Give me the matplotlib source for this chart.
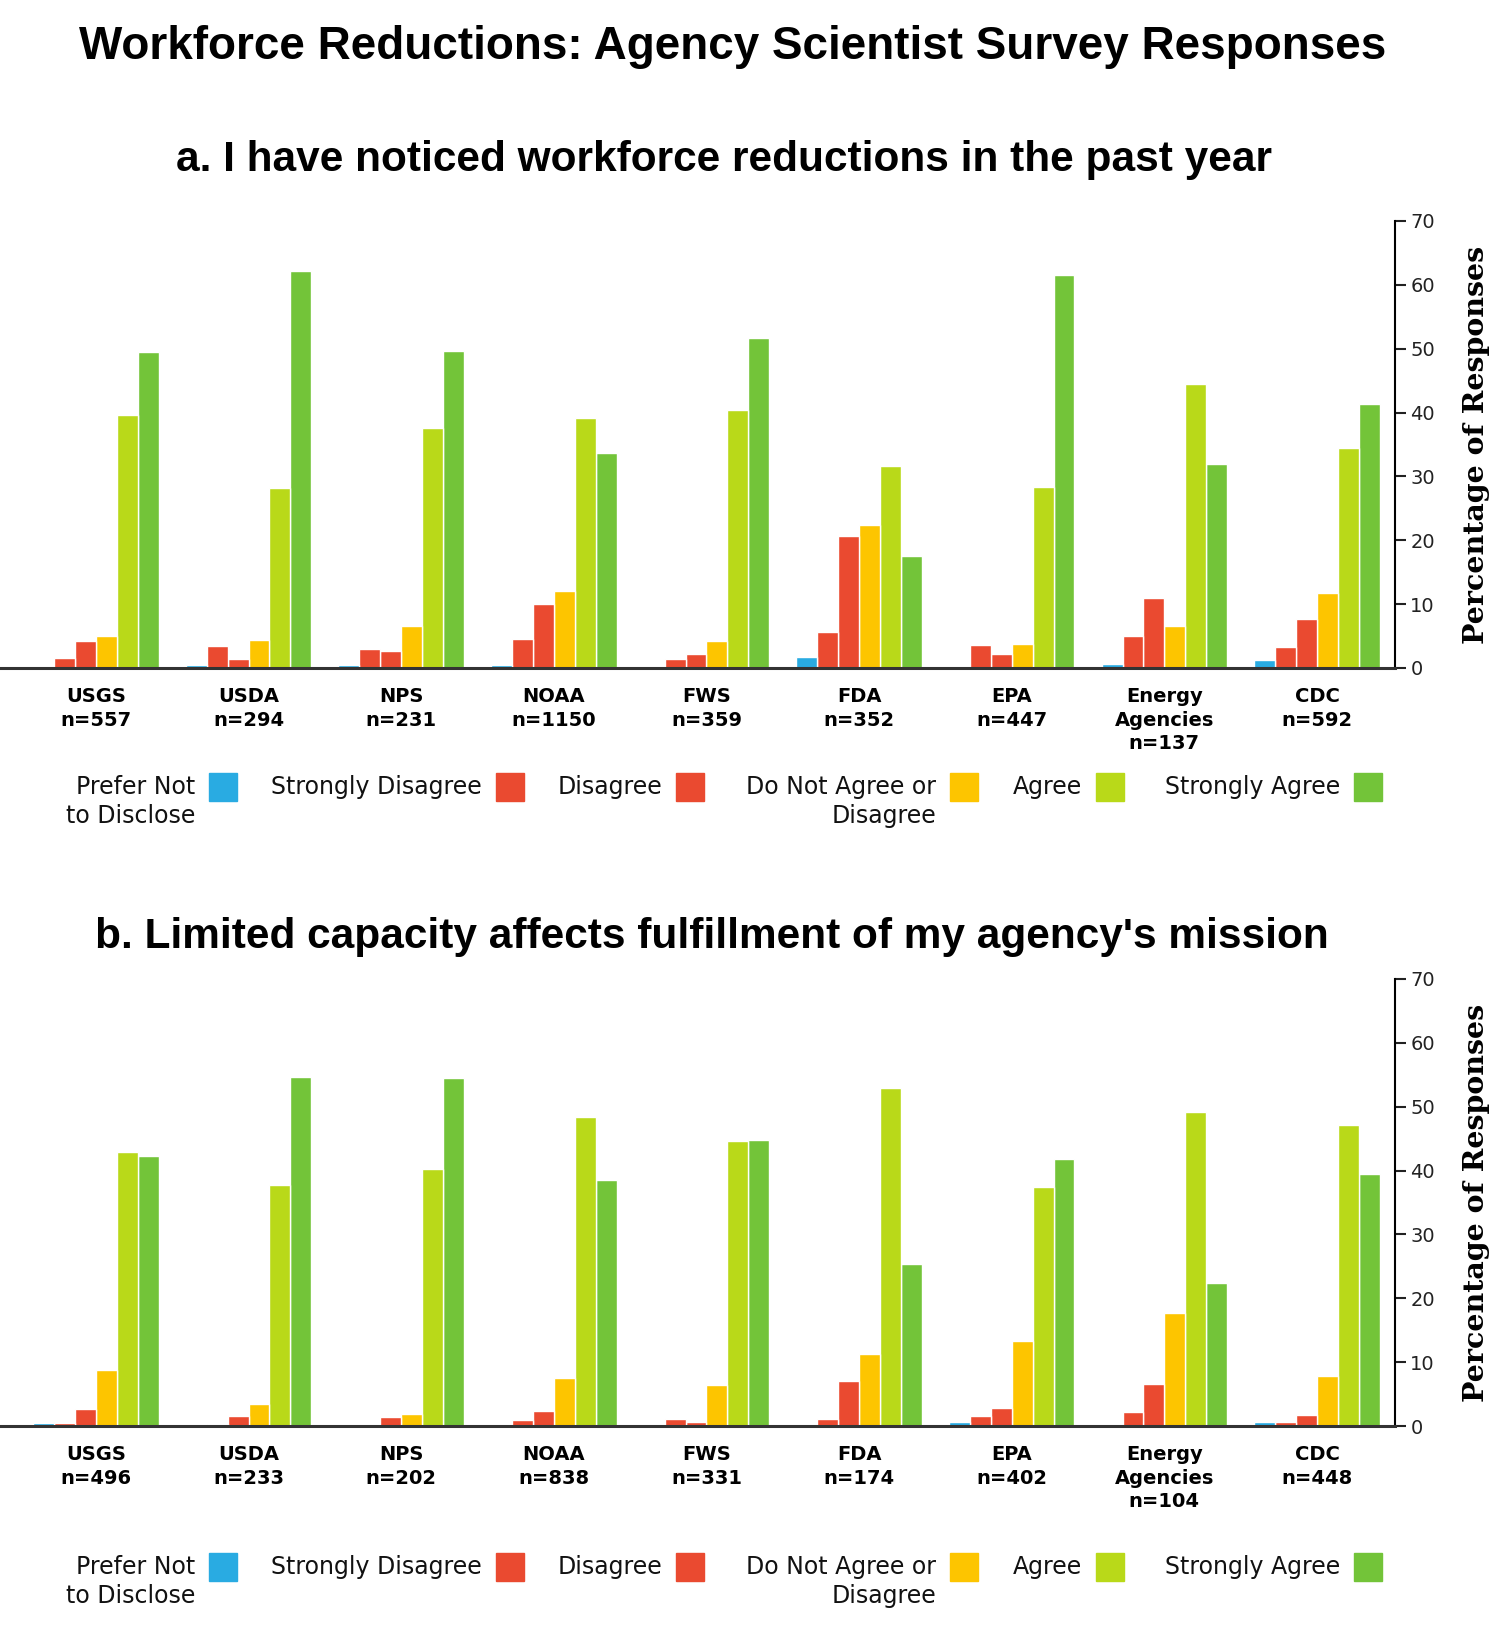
import matplotlib.pyplot as plt
from matplotlib.patches import Rectangle
import numpy as np

# Data (agencies in alphabetical order, values in percent)
agencies = ['CDC', 'Energy\nAgencies', 'EPA', 'FDA', 'FWS', 'NOAA', 'NPS', 'USDA', 'USGS']
n_a = [592, 137, 447, 352, 359, 1150, 231, 294, 557]
n_b = [448, 104, 402, 174, 331, 838, 202, 233, 496]

responses = ['Strongly Agree', 'Agree', 'Do Not Agree or\nDisagree', 'Disagree',
             'Strongly Disagree', 'Prefer Not\nto Disclose']
colors = ['#73c439', '#b9d919', '#fdc500', '#ea4a30', '#ea4a30', '#29abe2']

# a. I have noticed workforce reductions in the past year
a_strongly_agree = [41.3, 32.0, 61.6, 17.6, 51.7, 33.6, 49.7, 62.1, 49.5]
a_agree = [34.4, 44.4, 28.3, 31.7, 40.4, 39.2, 37.6, 28.2, 39.6]
a_neutral = [11.8, 6.6, 3.8, 22.4, 4.2, 12.1, 6.5, 4.4, 5.0]
a_disagree = [7.6, 10.9, 2.2, 20.7, 2.2, 10.1, 2.6, 1.4, 4.3]
a_strongly_disagree = [3.3, 5.0, 3.6, 5.7, 1.4, 4.5, 3.0, 3.4, 1.5]
a_prefer_not = [1.3, 0.7, 0.2, 1.7, 0.0, 0.4, 0.5, 0.4, 0.0]

# b. Limited capacity affects fulfillment of my agency's mission
b_strongly_agree = [39.4, 22.4, 41.8, 25.3, 44.8, 38.6, 54.5, 54.6, 42.3]
b_agree = [47.1, 49.1, 37.5, 53.0, 44.7, 48.4, 40.2, 37.7, 42.9]
b_neutral = [7.9, 17.7, 13.3, 11.3, 6.4, 7.5, 1.9, 3.5, 8.8]
b_disagree = [1.8, 6.5, 2.8, 7.1, 0.7, 2.3, 1.4, 1.5, 2.6]
b_strongly_disagree = [0.6, 2.2, 1.6, 1.1, 1.1, 0.9, 0.0, 0.3, 0.5]
b_prefer_not = [0.7, 0.0, 0.6, 0.0, 0.0, 0.2, 0.0, 0.0, 0.5]

panel_a = [a_strongly_agree, a_agree, a_neutral, a_disagree, a_strongly_disagree, a_prefer_not]
panel_b = [b_strongly_agree, b_agree, b_neutral, b_disagree, b_strongly_disagree, b_prefer_not]

W, H = 1500, 1641
fig = plt.figure(figsize=(W / 100, H / 100), dpi=100)


def fy(px):
    """pixel row from top -> figure fraction"""
    return 1 - px / H


def draw_panel(top_px, bottom_px, series, ns):
    ax = fig.add_axes([0, fy(bottom_px), 1395 / W, (bottom_px - top_px) / H])
    x = np.arange(len(agencies))
    w = 0.137
    for k, (vals, col) in enumerate(zip(series, colors)):
        ax.bar(x + (k - 2.5) * w, vals, w, color=col, edgecolor='white', linewidth=1.0)
    ax.set_ylim(0, 70)
    ax.set_xlim(8.628, -0.511)
    ax.set_yticks(range(0, 71, 10))
    ax.yaxis.tick_right()
    ax.tick_params(axis='y', direction='out', length=8, width=1.5, pad=3,
                   labelsize=14, colors='#222222')
    ax.set_xticks(x)
    ax.set_xticklabels([f'{a}\nn={n}' for a, n in zip(agencies, ns)],
                       fontsize=14, fontweight='bold', linespacing=1.3,
                       family='DejaVu Sans')
    ax.tick_params(axis='x', length=0, pad=14)
    for s in ['top', 'left']:
        ax.spines[s].set_visible(False)
    ax.spines['right'].set_linewidth(1.5)
    ax.spines['bottom'].set_linewidth(2.2)
    ax.spines['bottom'].set_color('#333333')
    ax.set_ylabel('Percentage of Responses', fontsize=20.5, fontweight='bold',
                  family='DejaVu Serif', rotation=90, va='center')
    ax.yaxis.set_label_coords(1476 / 1395, 0.5)
    return ax


def draw_legend(patch_top_px):
    right_edges = [1382, 1124, 978, 704, 524, 237]
    size = 28
    for label, col, r in zip(responses, colors, right_edges):
        fig.add_artist(Rectangle(((r - size) / W, fy(patch_top_px + size)), size / W, size / H,
                                 transform=fig.transFigure, color=col))
        fig.text((r - size - 14) / W, fy(patch_top_px + 2), label, ha='right', va='top',
                 multialignment='right', fontsize=17, linespacing=1.25,
                 family='DejaVu Sans', color='#111111')


fig.text(733 / W, fy(47), 'Workforce Reductions: Agency Scientist Survey Responses',
         ha='center', va='center', fontsize=33, fontweight='bold', family='Liberation Sans')

fig.text(724 / W, fy(160), 'a. I have noticed workforce reductions in the past year',
         ha='center', va='center', fontsize=30.5, fontweight='bold', family='Liberation Sans')
draw_panel(221, 668, panel_a, n_a)
draw_legend(773)

fig.text(712 / W, fy(937), "b. Limited capacity affects fulfillment of my agency's mission",
         ha='center', va='center', fontsize=30.5, fontweight='bold', family='Liberation Sans')
draw_panel(979, 1426, panel_b, n_b)
draw_legend(1553)

fig.savefig('out.png', dpi=100, facecolor='white')
